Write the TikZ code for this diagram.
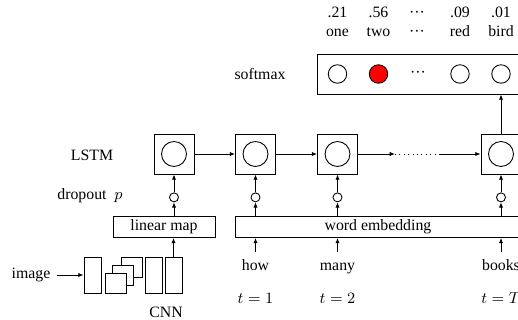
\documentclass[tikz,border=0pt]{standalone}
\usepackage{fontspec}
\setmainfont{Liberation Serif}
\usepackage{tikz}
\usetikzlibrary{positioning}
\usetikzlibrary{calc}
\usetikzlibrary{arrows.meta}
\tikzset{>={Latex[length=3pt,width=2.4pt]}}
\tikzstyle{cell} = [draw, minimum size=0.8cm, inner sep=0pt]
\tikzstyle{unit} = [draw, circle, minimum size=0.5cm, inner sep=0pt]
\tikzstyle{drop} = [draw, circle, minimum size=0.18cm, inner sep=0pt]
\tikzstyle{prob} = [draw, circle, minimum size=0.37cm, inner sep=0pt]
\tikzstyle{bar} = [draw, minimum height=0.42cm, inner sep=0pt]
\tikzstyle{layer} = [draw, fill=white, minimum width=0.34cm, minimum height=0.72cm, inner sep=0pt]
\tikzstyle{fmap} = [draw, fill=white, minimum width=0.42cm, minimum height=0.4cm, inner sep=0pt]
\tikzstyle{word} = [text height=1.5ex, text depth=0.3ex]
\tikzstyle{line} = [draw, ->]
\definecolor{hot}{RGB}{255,0,0}

\begin{document}
\begin{tikzpicture}[x=0.02cm, y=-0.02cm, font=\fontsize{9}{11}\selectfont, line width=0.5pt]
      \useasboundingbox (0,0) rectangle (518,320);
      \clip (0,0) rectangle (518,320);
      %% LSTM cells
      \node [cell] (c1) at (174,154) {};
      \node [cell] (c2) at (255.5,154) {};
      \node [cell] (c3) at (337.5,154) {};
      \node [cell] (c4) at (501,154) {};
      \node [unit] (u1) at (c1) {};
      \node [unit] (u2) at (c2) {};
      \node [unit] (u3) at (c3) {};
      \node [unit] (u4) at (c4) {};
      \coordinate (g1) at (395,154);
      \coordinate (g2) at (440,154);
      %% dropout
      \node [drop, below=0.36cm of c1] (d1) {};
      \node [drop, below=0.36cm of c2] (d2) {};
      \node [drop, below=0.36cm of c3] (d3) {};
      \node [drop, below=0.36cm of c4] (d4) {};
      %% input maps
      \node [bar, minimum width=2.04cm] (lin) at (164,227) {linear map};
      \node [bar, minimum width=5.72cm] (emb) at (378,227) {word embedding};
      %% softmax
      \node [draw, minimum width=4.16cm, minimum height=0.8cm, inner sep=0pt] (soft) at (421,74) {};
      \node [prob] (p1) at (337.5,74) {};
      \node [prob, fill=hot] (p2) at (378.5,74) {};
      \node (p3) at (418,74) {···};
      \node [prob] (p4) at (460,74) {};
      \node [prob] (p5) at (501,74) {};
      \node [word] (v1) at (337.5,32) {one};
      \node [word] (v2) at (378.5,32) {two};
      \node [word] (v3) at (417,32) {···};
      \node [word] (v4) at (460,32) {red};
      \node [word] (v5) at (501,32) {bird};
      \node [word] (s1) at (337.5,13) {.21};
      \node [word] (s2) at (378.5,13) {.56};
      \node [word] (s3) at (417,13) {···};
      \node [word] (s4) at (460,13) {.09};
      \node [word] (s5) at (501,13) {.01};
      %% CNN
      \node [layer] (l1) at (92.5,275) {};
      \node [fmap] (f3) at (131.5,267) {};
      \node [fmap] (f2) at (122.5,275) {};
      \node [fmap] (f1) at (115.5,283) {};
      \node [layer] (l2) at (153.5,275) {};
      \node [layer] (l3) at (173.5,275) {};
      %% words
      \node [word] (w2) at (255.5,266) {how};
      \node [word] (w3) at (337.5,266) {many};
      \node [word] (w4) at (501,266) {books};
      \node (t2) at (255.5,298) {$t=1$};
      \node (t3) at (337.5,298) {$t=2$};
      \node (t4) at (501,298) {$t=T$};
      %% labels
      \node (lstm) at (92,155) {LSTM};
      \node (dp) at (90,196) {dropout~~$p$};
      \node (sm) at (260,74) {softmax};
      \node (img) at (31,275) {image};
      \node (cnn) at (166,312) {CNN};
      %% Flows
      \path [line] (img) to (l1);
      \path [line] (l3.north) to (l3 |- lin.south);
      \path [line] (d1 |- lin.north) to (d1);
      \path [line] (d1) to (c1);
      \foreach \i in {2,3,4} {
        \path [line] (w\i.north) to (w\i |- emb.south);
        \path [line] (d\i |- emb.north) to (d\i);
        \path [line] (d\i) to (c\i);
      }
      \path [line] (c1) to (c2);
      \path [line] (c2) to (c3);
      \path [line] (c3) to (g1);
      \draw [dotted] (g1) to (g2);
      \path [line] (g2) to (c4);
      \path [line] (c4) to (c4 |- soft.south);
    \end{tikzpicture}
\end{document}
